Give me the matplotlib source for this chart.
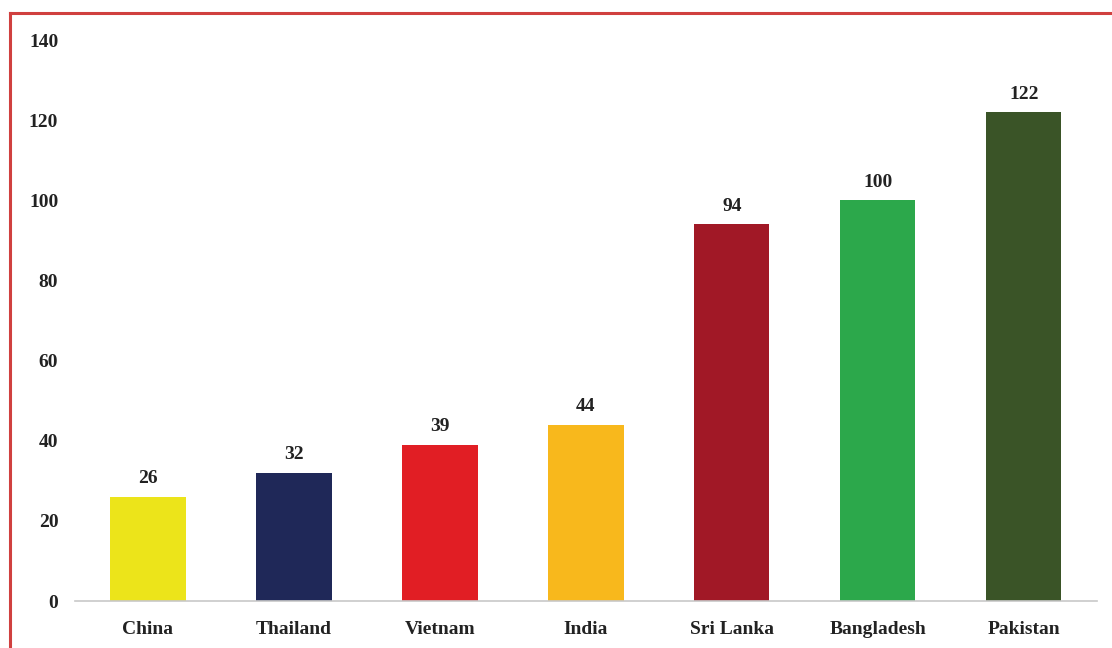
import matplotlib
matplotlib.use("Agg")
import matplotlib.pyplot as plt
from matplotlib.lines import Line2D

countries = ["China", "Thailand", "Vietnam", "India", "Sri Lanka", "Bangladesh", "Pakistan"]
values = [26, 32, 39, 44, 94, 100, 122]
bar_colors = ["#ECE41A", "#1F2858", "#E11E24", "#F8B81C", "#A11826", "#2CA84B", "#3A5427"]
y_ticks = [0, 20, 40, 60, 80, 100, 120, 140]

plt.rcParams["font.family"] = ["Liberation Serif", "DejaVu Serif"]
plt.rcParams["font.weight"] = "bold"

fig = plt.figure(figsize=(11.12, 6.48), dpi=100)
ax = fig.add_axes([0.0674, 0.0725, 0.919, 0.8655])

x = range(len(countries))
bars = ax.bar(x, values, width=0.515, color=bar_colors, zorder=2)
for rect, v in zip(bars, values):
    ax.annotate(f"{v}", (rect.get_x() + rect.get_width() / 2, v),
                xytext=(0, 7), textcoords="offset points",
                ha="center", va="bottom", fontsize=14, fontweight="bold", color="#222222")

ax.set_xlim(-0.5, len(countries) - 0.5)
ax.set_ylim(0, 140)
ax.set_yticks(y_ticks)
ax.set_xticks(list(x))
ax.set_xticklabels(countries)
ax.tick_params(axis="both", length=0, labelsize=14, colors="#222222")
ax.tick_params(axis="y", pad=12)
ax.tick_params(axis="x", pad=14.5)
for lbl in ax.get_xticklabels() + ax.get_yticklabels():
    lbl.set_fontweight("bold")

for side in ["top", "right", "left"]:
    ax.spines[side].set_visible(False)
ax.spines["bottom"].set_color("#C8C8C8")
ax.spines["bottom"].set_linewidth(1.2)

# red frame along the top and left edge
frame_color = "#D0403F"
fig.add_artist(Line2D([10 / 1112, 1.0], [1 - 13 / 648, 1 - 13 / 648],
                      transform=fig.transFigure, color=frame_color, linewidth=2.2))
fig.add_artist(Line2D([10 / 1112, 10 / 1112], [0.0, 1 - 13 / 648],
                      transform=fig.transFigure, color=frame_color, linewidth=2.2))

fig.savefig("out.png", dpi=100)
